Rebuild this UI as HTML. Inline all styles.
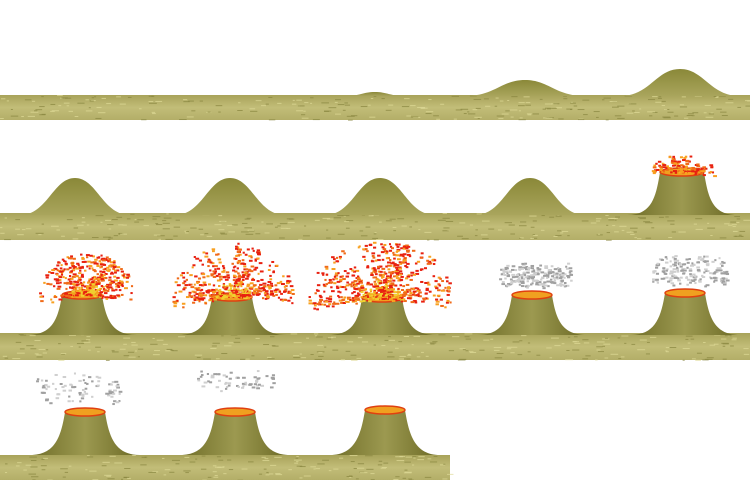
<!DOCTYPE html>
<html><head><meta charset="utf-8"><style>
html,body{margin:0;padding:0;background:#fff;}
svg{display:block;}
</style></head><body>
<svg id="s" width="750" height="480" viewBox="0 0 750 480" xmlns="http://www.w3.org/2000/svg">
<defs>
<linearGradient id="gnd" x1="0" y1="0" x2="0" y2="1">
<stop offset="0" stop-color="#a8a35a"/><stop offset="0.5" stop-color="#c2bd78"/><stop offset="1" stop-color="#b3ae68"/>
</linearGradient>
<linearGradient id="mnd" x1="0" y1="0" x2="0" y2="1">
<stop offset="0" stop-color="#8a8838"/><stop offset="1" stop-color="#a9a55c"/>
</linearGradient>
<linearGradient id="cone" x1="0" y1="0" x2="1" y2="0">
<stop offset="0" stop-color="#6f6d28"/><stop offset="0.5" stop-color="#9c9950"/><stop offset="1" stop-color="#6a6824"/>
</linearGradient>
</defs>
</svg>
<script>
const NS="http://www.w3.org/2000/svg";
const svg=document.getElementById('s');
let seed=7;
function rnd(){seed=(seed*16807)%2147483647;return seed/2147483647;}
function mk(tag,attrs,name){const e=document.createElementNS(NS,tag);for(const k in attrs)e.setAttribute(k,attrs[k]);


svg.appendChild(e);return e;}
const grounds=[[0,95,750,25],[0,213,750,27],[0,333,750,27],[0,455,450,25]];
grounds.forEach((g,i)=>{mk('rect',{x:g[0],y:g[1],width:g[2],height:g[3],fill:'url(#gnd)'},'ground-row-'+(i+1));
for(let k=0;k<g[2]/3;k++){mk('rect',{x:g[0]+rnd()*g[2],y:g[1]+rnd()*g[3],width:2+rnd()*6,height:1,fill:rnd()<0.5?'#e0dc98':'#88843e',opacity:0.7},'ground-texture');}});
function mound(cx,base,peak,w,name){
mk('path',{d:`M${cx-w},${base} C${cx-w*0.5},${base} ${cx-w*0.4},${peak} ${cx},${peak} C${cx+w*0.4},${peak} ${cx+w*0.5},${base} ${cx+w},${base} Z`,fill:'url(#mnd)'},name);}
function cone(cx,base,top,tw,name){
mk('path',{d:`M${cx-55},${base} C${cx-30},${base} ${cx-tw-4},${top+25} ${cx-tw},${top} L${cx+tw},${top} C${cx+tw+4},${top+25} ${cx+30},${base} ${cx+55},${base} Z`,fill:'url(#cone)'},name);
mk('ellipse',{cx:cx,cy:top,rx:tw,ry:4,fill:'#f0a020',stroke:'#e04010','stroke-width':1.5},name+'-crater');}
function fire(cx,cy,rx,ry,n,name){
const rays=[];for(let r=0;r<40;r++)rays.push(Math.PI*(0.95+rnd()*1.1));
for(let i=0;i<n;i++){const a=rays[Math.floor(rnd()*rays.length)]+(rnd()-0.5)*0.25;const d=Math.pow(rnd(),1.1);
const x=cx+Math.cos(a)*rx*d, y=cy+Math.sin(a)*ry*d;
const c=d<0.3?['#f0d030','#f8a020','#e82010'][Math.floor(rnd()*3)]:['#e82010','#f06a18','#f8a020','#e82010'][Math.floor(rnd()*4)];
mk('rect',{x:x,y:y,width:2+rnd()*2,height:2,fill:c},name);}}
function smoke(cx,cy,rx,ry,n,name){
for(let i=0;i<n;i++){const x=cx+(rnd()*2-1)*rx, y=cy+(rnd()*2-1)*ry*(1-Math.abs(rnd()-0.5));
mk('rect',{x:x,y:y,width:2+rnd()*2,height:2,fill:rnd()<0.5?'#a0a0a0':'#cfcfcf'},name);}}
mound(375,96,92,30,'mound-r1-f3');
mound(525,96,80,60,'mound-r1-f4');
mound(680,96,69,60,'mound-r1-f5');
[75,230,380,530].forEach((c,i)=>mound(c,215,178,55,'mound-r2-f'+(i+1)));
cone(682,215,172,22,'cone-r2-f5');
fire(682,172,32,18,160,'fire-r2-f5');
cone(82,335,295,20,'cone-r3-f1');fire(85,294,48,42,480,'fire-r3-f1');
cone(232,335,297,20,'cone-r3-f2');fire(232,296,60,54,560,'fire-r3-f2');
cone(382,335,298,20,'cone-r3-f3');fire(380,298,72,58,700,'fire-r3-f3');
cone(532,335,295,20,'cone-r3-f4');smoke(535,275,36,14,200,'smoke-r3-f4');
cone(685,335,293,20,'cone-r3-f5');smoke(688,270,38,16,180,'smoke-r3-f5');
cone(85,455,412,20,'cone-r4-f1');smoke(78,388,42,16,80,'smoke-r4-f1');
cone(235,455,412,20,'cone-r4-f2');smoke(235,380,38,12,60,'smoke-r4-f2');
cone(385,455,410,20,'cone-r4-f3');
</script>
</body></html>
